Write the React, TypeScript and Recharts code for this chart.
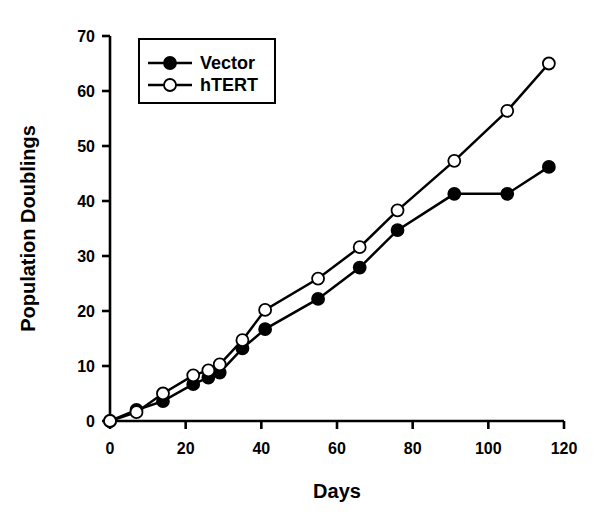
import { LineChart, Line, XAxis, YAxis } from 'recharts';

const days = [0, 7, 14, 22, 26, 29, 35, 41, 55, 66, 76, 91, 105, 116];
const vectorPD = [0, 2.0, 3.6, 6.7, 7.9, 8.8, 13.2, 16.7, 22.2, 27.9, 34.7, 41.3, 41.3, 46.2];
const htertPD = [0, 1.6, 5.0, 8.3, 9.2, 10.3, 14.7, 20.2, 25.9, 31.6, 38.3, 47.3, 56.4, 65.0];
const xTicks = [0, 20, 40, 60, 80, 100, 120];
const yTicks = [0, 10, 20, 30, 40, 50, 60, 70];
const seriesNames = ['Vector', 'hTERT'];

const data = days.map((d, i) => ({ day: d, vector: vectorPD[i], htert: htertPD[i] }));

const font = '"Liberation Sans", Arial, Helvetica, sans-serif';
const axisStyle = { stroke: '#000', strokeWidth: 2.6 };
const tickStyle = { fill: '#000', fontSize: 16, fontWeight: 700, fontFamily: font };
const markerFills = ['#000', '#fff'];

// legend drawn as an overlay so it doesn't eat into the plot area
const LegendBox = () => (
    <div style={{ position: 'absolute', left: 138, top: 38, width: 134, height: 62, border: '2px solid #000', background: '#fff' }}>
        {seriesNames.map((name, i) => (
            <div key={name} style={{ position: 'absolute', left: 8, top: 15 + i * 22, height: 16, display: 'flex', alignItems: 'center' }}>
                <svg width={44} height={16}>
                    <line x1={0} y1={8} x2={44} y2={8} stroke="#000" strokeWidth={2.5} />
                    <circle cx={22} cy={8} r={6} fill={markerFills[i]} stroke="#000" strokeWidth={1.8} />
                </svg>
                <span style={{ marginLeft: 8, fontFamily: font, fontWeight: 700, fontSize: 18, color: '#000', lineHeight: '16px' }}>{name}</span>
            </div>
        ))}
    </div>
);

const YLabel = ({ viewBox }: any) => {
    const cy = viewBox.y + viewBox.height / 2;
    return (
        <text x={28} y={cy} transform={`rotate(-90, 28, ${cy})`} textAnchor="middle" dominantBaseline="central"
            style={{ fontFamily: font, fontWeight: 700, fontSize: 20, fill: '#000' }}>
            Population Doublings
        </text>
    );
};

const XLabel = ({ viewBox }: any) => {
    const cx = viewBox.x + viewBox.width / 2;
    return (
        <text x={cx} y={498} textAnchor="middle"
            style={{ fontFamily: font, fontWeight: 700, fontSize: 20, fill: '#000' }}>
            Days
        </text>
    );
};

export default function App() {
    return (
        <div style={{ position: 'absolute', left: 0, top: 0, width: 600, height: 524, background: '#fff' }}>
            <LineChart width={600} height={524} data={data} margin={{ top: 36, right: 36, left: 0, bottom: 0 }}>
                <XAxis
                    dataKey="day"
                    type="number"
                    domain={[0, 120]}
                    ticks={xTicks}
                    height={103}
                    axisLine={axisStyle}
                    tickLine={axisStyle}
                    tickSize={8}
                    tickMargin={14}
                    tick={tickStyle}
                    label={<XLabel />}
                />
                <YAxis
                    type="number"
                    domain={[0, 70]}
                    ticks={yTicks}
                    width={110}
                    axisLine={axisStyle}
                    tickLine={axisStyle}
                    tickSize={8}
                    tickMargin={7}
                    tick={tickStyle}
                    label={<YLabel />}
                />
                <Line
                    dataKey="vector"
                    name={seriesNames[0]}
                    stroke="#000"
                    strokeWidth={2.5}
                    dot={{ r: 6, fill: markerFills[0], stroke: '#000', strokeWidth: 1.8 }}
                    isAnimationActive={false}
                />
                <Line
                    dataKey="htert"
                    name={seriesNames[1]}
                    stroke="#000"
                    strokeWidth={2.5}
                    dot={{ r: 6, fill: markerFills[1], stroke: '#000', strokeWidth: 1.8 }}
                    isAnimationActive={false}
                />
            </LineChart>
            <LegendBox />
        </div>
    );
}
